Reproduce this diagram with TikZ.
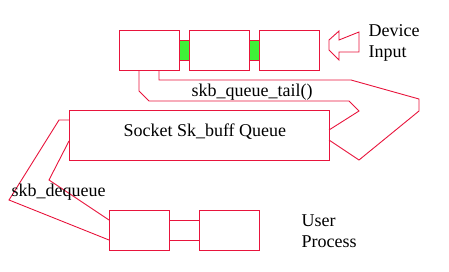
\documentclass[tikz,border=0pt]{standalone}
\usepackage{fontspec}
\setmainfont{Liberation Serif}
\usetikzlibrary{calc, positioning}
\definecolor{skbred}{RGB}{232,20,60}
\definecolor{skbgreen}{RGB}{64,240,56}

\begin{document}
\begin{tikzpicture}[x=1pt, y=-1pt, font=\fontsize{18}{21}\selectfont,
  buf/.style={draw=skbred, line width=0.9pt, minimum width=60pt, minimum height=40pt, inner sep=0pt, outer sep=0pt},
  link/.style={draw=skbred, fill=skbgreen, line width=0.9pt, minimum width=10pt, minimum height=20pt, inner sep=0pt, outer sep=0pt},
  wire/.style={draw=skbred, line width=0.9pt}]
\useasboundingbox (0,0) rectangle (449,271);

% device queue
\node[buf] (q1) at (149,50) {};
\node[buf, right=10pt of q1] (q2) {};
\node[buf, right=10pt of q2] (q3) {};
\node[link] (l1) at ($(q1.east)!0.5!(q2.west)$) {};
\node[link] (l2) at ($(q2.east)!0.5!(q3.west)$) {};

% device input arrow
\draw[wire] (339,31) -- (329,40) -- (329,50) -- (339,60) -- (339,52)
  -- (359,52) -- (359,32) -- (339,40) -- cycle;
\node[anchor=base west, align=left] (dev) at (365,57) {Device\\Input};

% socket queue
\node[buf, minimum width=260pt, minimum height=50pt] (sock) at (199,135) {};
\node[anchor=base west] (socktxt) at (120,136) {Socket Sk\_buff Queue};

% user process
\node[buf] (u1) at (139,230) {};
\node[buf, right=30pt of u1] (u2) {};
\draw[wire] ($(u1.east)+(0,-10)$) -- ($(u2.west)+(0,-10)$);
\draw[wire] ($(u1.east)+(0,10)$) -- ($(u2.west)+(0,10)$);
\node[anchor=base west, align=left] (usr) at (298,247) {User\\Process};

% skb_queue_tail()
\draw[wire] ($(q1.south west)+(20,0)$) -- ++(0,21) -- (149,101) -- (349,101)
  -- (359,111) -- ($(sock.east)+(0,-5)$);
\draw[wire] ($(q1.south west)+(40,0)$) -- ++(0,10) -- (351,80) -- (419,99)
  -- (419,111) -- (359,160) -- ($(sock.east)+(0,5)$);
\node[anchor=base west] (tail) at (188,96) {skb\_queue\_tail()};

% skb_dequeue
\draw[wire] ($(sock.west)+(0,-15)$) -- (59,120) -- (9,200) -- ($(u1.west)+(0,10)$);
\draw[wire] ($(sock.west)+(0,6)$) -- (49,180) -- ($(u1.west)+(0,-10)$);
\node[anchor=base west] (deq) at (8,196) {skb\_dequeue};
\end{tikzpicture}
\end{document}
